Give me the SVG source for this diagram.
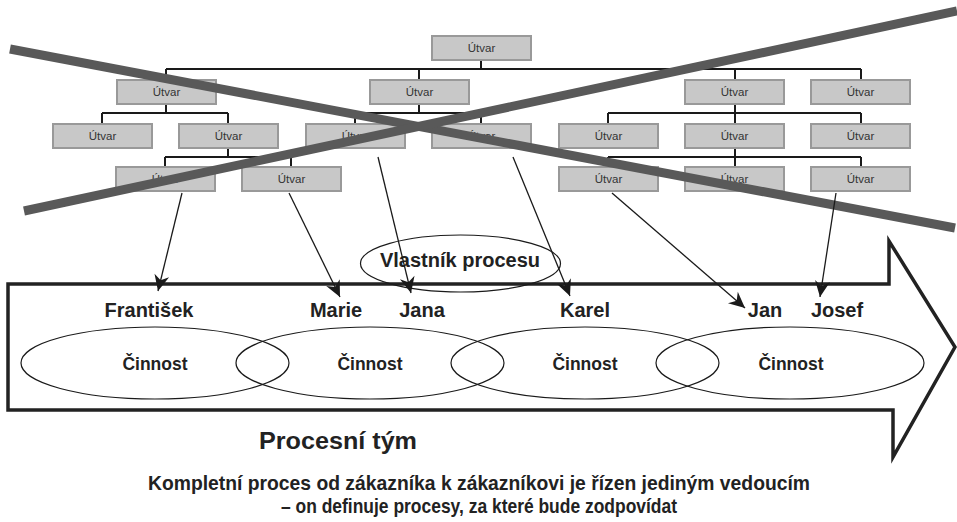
<svg xmlns="http://www.w3.org/2000/svg" width="957" height="522" viewBox="0 0 957 522">
  <style>
    .box rect { fill: #c8c8c8; stroke: #999999; stroke-width: 2; }
    .box text { font-family: "Liberation Sans", Arial, sans-serif; font-size: 11.5px; fill: #333333; text-anchor: middle; }
    .org { fill: none; stroke: #1a1a1a; stroke-width: 2; }
    .cross { stroke: #595959; stroke-width: 9; stroke-linecap: butt; }
    .link { stroke: #1a1a1a; stroke-width: 1.3; fill: none; marker-end: url(#ah); }
    .ell { fill: none; stroke: #1a1a1a; stroke-width: 1.2; }
    .lbl { font-family: "Liberation Sans", Arial, sans-serif; font-weight: bold; fill: #222222; text-anchor: middle; }
    .name { font-size: 20px; }
    .act { font-size: 17.5px; }
  </style>
  <defs>
    <marker id="ah" viewBox="-17 -9 18 18" refX="0" refY="0" markerWidth="18" markerHeight="18" markerUnits="userSpaceOnUse" orient="auto">
      <path d="M0,0 L-16,-7.5 L-11,0 L-16,7.5 Z" fill="#1a1a1a"/>
    </marker>
  </defs>

  <!-- organisation chart connectors -->
  <g id="org-connectors">
    <path class="org" d="M481,60 V69 M166,69 H861 M166,69 V80 M419,69 V80 M735,69 V80 M861,69 V80"/>
    <path class="org" d="M166,104 V113 M102,113 H228 M102,113 V124 M228,113 V124"/>
    <path class="org" d="M419,104 V113 M355,113 H481 M355,113 V124 M481,113 V124"/>
    <path class="org" d="M735,104 V113 M608,113 H861 M608,113 V124 M735,113 V124 M861,113 V124"/>
    <path class="org" d="M228,148 V157 M165,157 H291 M165,157 V167 M291,157 V167"/>
    <path class="org" d="M735,148 V157 M608,157 H861 M608,157 V167 M735,157 V167 M861,157 V167"/>
  </g>

  <!-- organisation units -->
  <g id="u0" class="box"><rect x="432" y="36" width="99" height="24"/><text x="481.5" y="52">Útvar</text></g>

  <g id="u1" class="box"><rect x="117" y="80" width="99" height="24"/><text x="166.5" y="96">Útvar</text></g>
  <g id="u2" class="box"><rect x="370" y="80" width="99" height="24"/><text x="419.5" y="96">Útvar</text></g>
  <g id="u3" class="box"><rect x="685" y="80" width="99" height="24"/><text x="734.5" y="96">Útvar</text></g>
  <g id="u4" class="box"><rect x="811" y="80" width="99" height="24"/><text x="860.5" y="96">Útvar</text></g>

  <g id="u5" class="box"><rect x="53" y="124" width="99" height="24"/><text x="102.5" y="140">Útvar</text></g>
  <g id="u6" class="box"><rect x="179" y="124" width="99" height="24"/><text x="228.5" y="140">Útvar</text></g>
  <g id="u7" class="box"><rect x="306" y="124" width="99" height="24"/><text x="355.5" y="140">Útvar</text></g>
  <g id="u8" class="box"><rect x="432" y="124" width="99" height="24"/><text x="481.5" y="140">Útvar</text></g>
  <g id="u9" class="box"><rect x="559" y="124" width="99" height="24"/><text x="608.5" y="140">Útvar</text></g>
  <g id="u10" class="box"><rect x="685" y="124" width="99" height="24"/><text x="734.5" y="140">Útvar</text></g>
  <g id="u11" class="box"><rect x="811" y="124" width="99" height="24"/><text x="860.5" y="140">Útvar</text></g>

  <g id="u12" class="box"><rect x="116" y="167" width="99" height="24"/><text x="165.5" y="183">Útvar</text></g>
  <g id="u13" class="box"><rect x="242" y="167" width="99" height="24"/><text x="291.5" y="183">Útvar</text></g>
  <g id="u14" class="box"><rect x="559" y="167" width="99" height="24"/><text x="608.5" y="183">Útvar</text></g>
  <g id="u15" class="box"><rect x="685" y="167" width="99" height="24"/><text x="734.5" y="183">Útvar</text></g>
  <g id="u16" class="box"><rect x="811" y="167" width="99" height="24"/><text x="860.5" y="183">Útvar</text></g>

  <!-- the hierarchy struck through -->
  <g id="strike">
    <line class="cross" x1="10" y1="49" x2="955" y2="228"/>
    <line class="cross" x1="24" y1="211" x2="957" y2="11"/>
  </g>

  <!-- big process arrow -->
  <g id="process-arrow">
    <path d="M8,284 H889 V241 L955,347 L893,457 V410 H8 Z" fill="none" stroke="#222222" stroke-width="3.5" stroke-linejoin="miter"/>
  </g>

  <!-- process owner -->
  <g id="owner">
    <ellipse class="ell" cx="460.5" cy="263.5" rx="100" ry="28.5"/>
    <text class="lbl name" x="460" y="267">Vlastník procesu</text>
  </g>

  <!-- activities -->
  <g id="a1"><ellipse class="ell" cx="155" cy="363" rx="134" ry="36"/><text class="lbl act" x="155" y="370">Činnost</text></g>
  <g id="a2"><ellipse class="ell" cx="370" cy="363" rx="134" ry="36"/><text class="lbl act" x="370" y="370">Činnost</text></g>
  <g id="a3"><ellipse class="ell" cx="585" cy="363" rx="134" ry="36"/><text class="lbl act" x="585" y="370">Činnost</text></g>
  <g id="a4"><ellipse class="ell" cx="790" cy="363" rx="134" ry="36"/><text class="lbl act" x="791" y="370">Činnost</text></g>

  <!-- team members -->
  <g id="p1"><text class="lbl name" x="149" y="317">František</text></g>
  <g id="p2"><text class="lbl name" x="336" y="317">Marie</text></g>
  <g id="p3"><text class="lbl name" x="422" y="317">Jana</text></g>
  <g id="p4"><text class="lbl name" x="585" y="317">Karel</text></g>
  <g id="p5"><text class="lbl name" x="765" y="317">Jan</text></g>
  <g id="p6"><text class="lbl name" x="837" y="317">Josef</text></g>

  <!-- assignments from units to people -->
  <g id="links">
    <line class="link" x1="182" y1="193" x2="158" y2="291"/>
    <line class="link" x1="289" y1="193" x2="340" y2="297"/>
    <line class="link" x1="378" y1="157" x2="411" y2="293"/>
    <line class="link" x1="513" y1="157" x2="570" y2="296"/>
    <line class="link" x1="612" y1="193" x2="745" y2="308"/>
    <line class="link" x1="836" y1="193" x2="820" y2="297"/>
  </g>

  <!-- captions -->
  <g id="captions">
    <text class="lbl" x="338" y="449" font-size="23" textLength="158" lengthAdjust="spacingAndGlyphs">Procesní tým</text>
    <text class="lbl" x="479" y="490" font-size="20.5" textLength="662" lengthAdjust="spacingAndGlyphs">Kompletní proces od zákazníka k zákazníkovi je řízen jediným vedoucím</text>
    <text class="lbl" x="479" y="513" font-size="20.5" textLength="396" lengthAdjust="spacingAndGlyphs">– on definuje procesy, za které bude zodpovídat</text>
  </g>
</svg>
